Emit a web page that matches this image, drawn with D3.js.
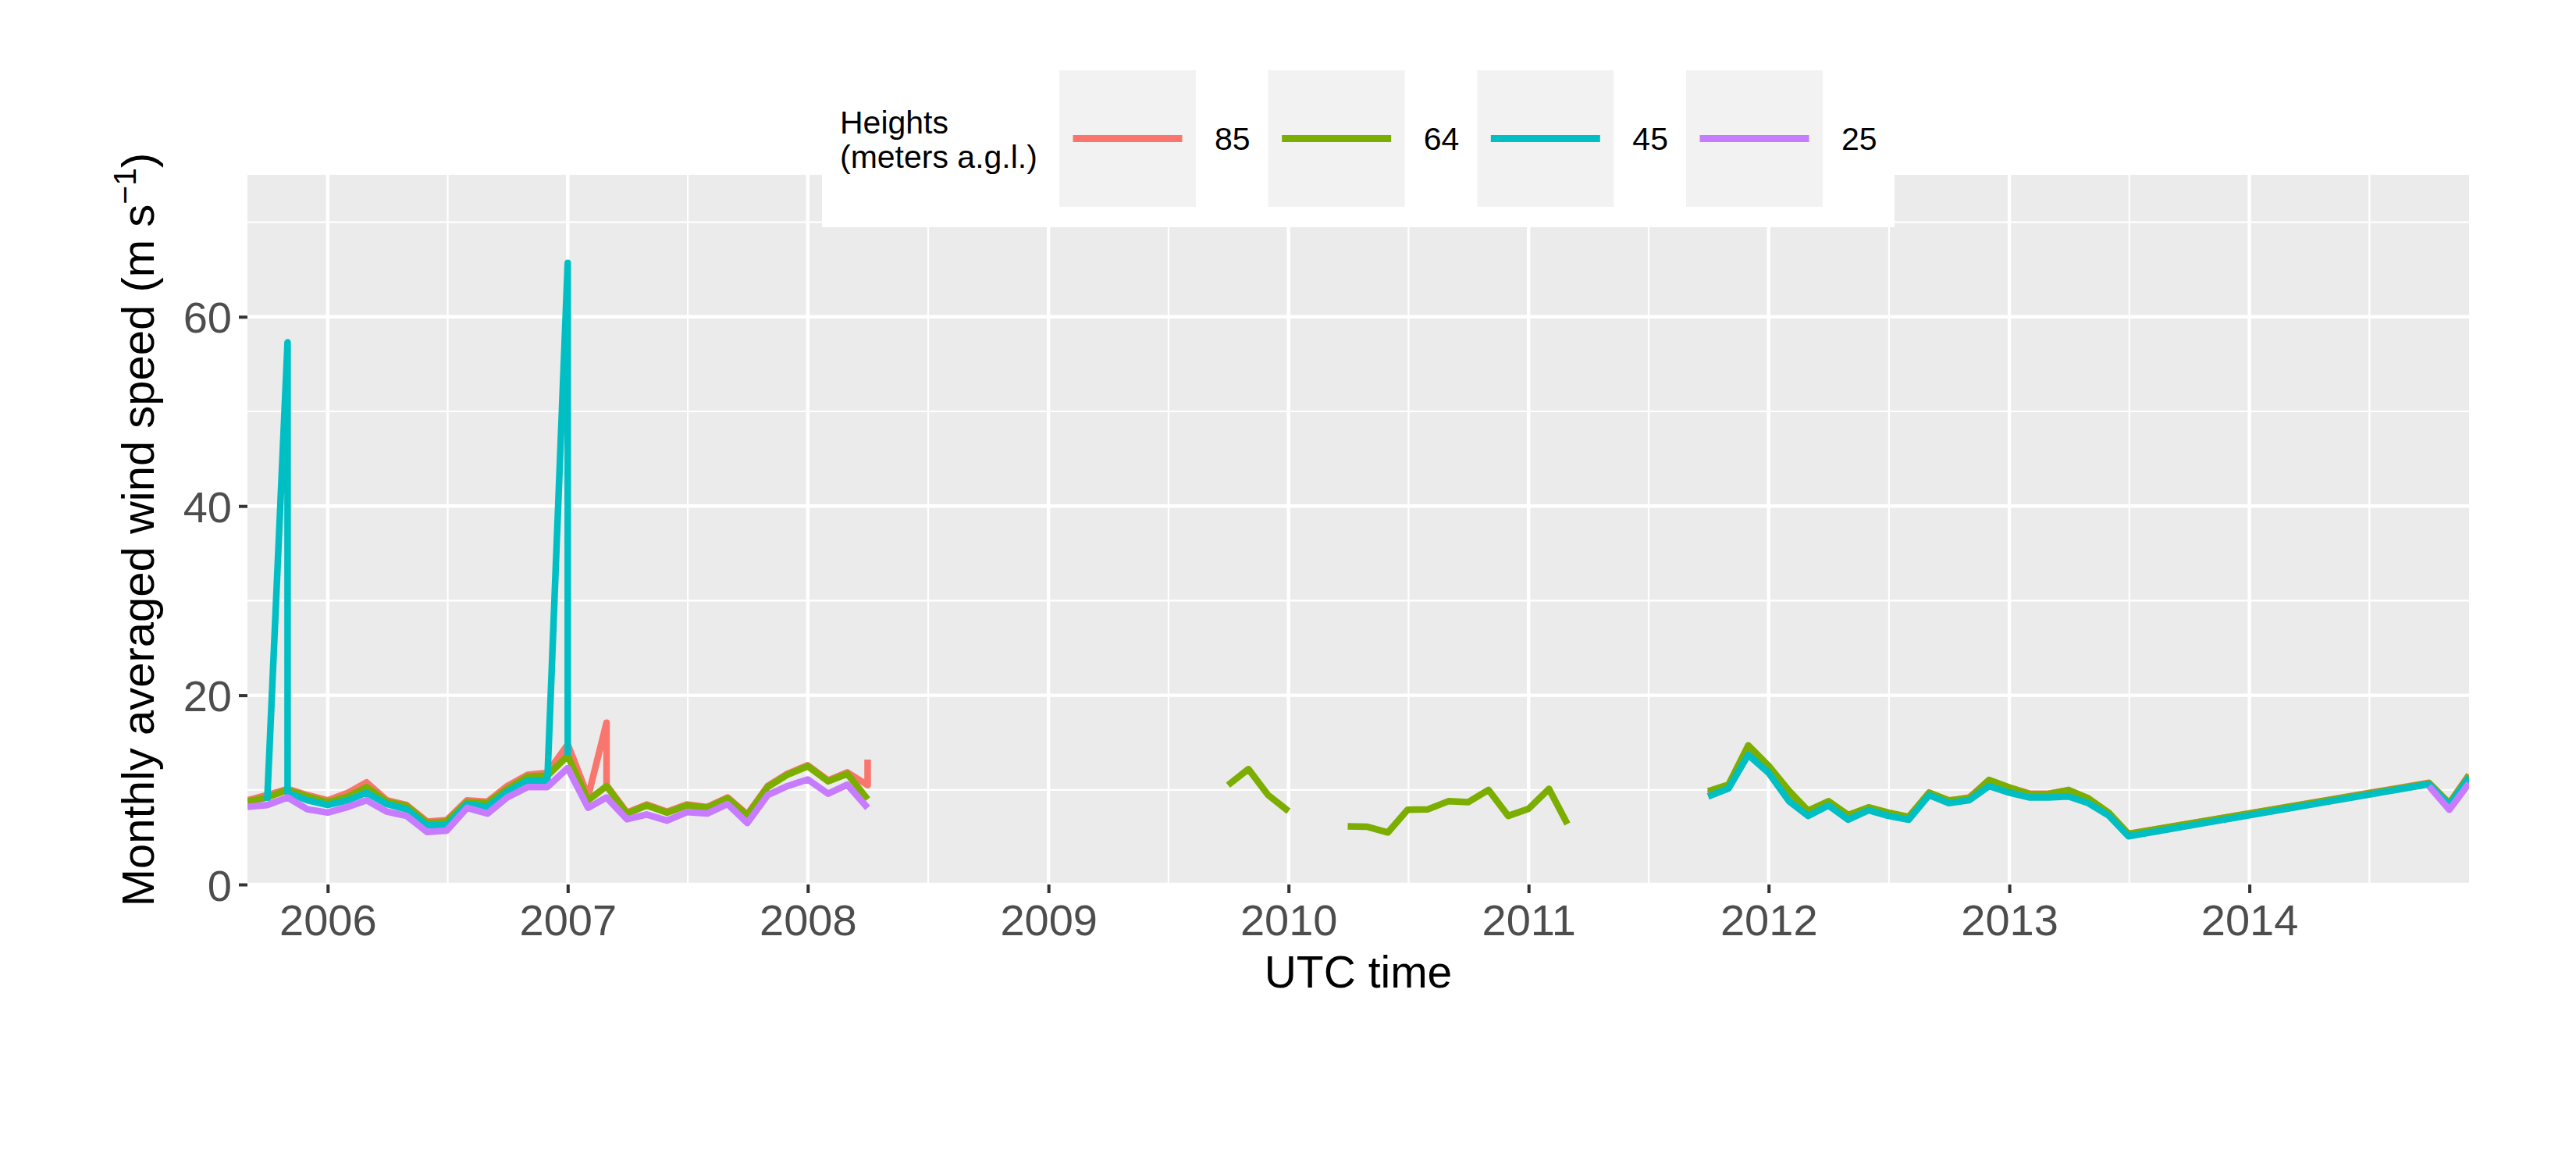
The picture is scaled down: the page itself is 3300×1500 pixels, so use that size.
<!DOCTYPE html>
<html><head><meta charset="utf-8">
<script src="https://cdn.jsdelivr.net/npm/d3@7"></script>
<style>html,body{margin:0;padding:0;background:#fff;}svg{display:block;}</style>
</head><body>
<script>
// ---------------- data ----------------
const N = null;
// monthly rows exist for these spans (rows for Aug 2013 – Sep 2014 are absent)
const monthSpans = [["2005-09", "2013-07"], ["2014-10", "2014-12"]];
const heights = ["85", "64", "45", "25"];
const colors = ["#F8766D", "#7CAE00", "#00BFC4", "#C77CFF"];
const yearLabels = ["2006","2007","2008","2009","2010","2011","2012","2013","2014"];
const yTickValues = [0, 20, 40, 60];
const yMinorValues = [10, 30, 50, 70];
// a two-element entry = two records for the same month
const h85 = [
  8.9, 9.45, 10.1, 9.45,
  8.9, 9.7, 10.8, 8.9, 8.4, 6.65, 6.8, 8.9, 8.75, 10.4, 11.6, 11.8,
  14.8, 9.3, [17.1, 10.5], 7.6, 8.45, 7.7, 8.45, 8.2, 9.2, 7.4, 10.4, 11.7,
  12.6, 11.0, 11.85, [10.5, 13.2], N, N, N, N, N, N, N, N,
  N, N, N, N, N, N, N, N, N, N, N, N,
  N, N, N, N, N, N, N, N, N, N, N, N,
  N, N, N, N, N, N, N, N, N, 9.6, 10.45, 14.5,
  12.45, 9.8, 7.7, 8.7, 7.25, 8.1, 7.5, 7.1, 9.7, 8.85, 9.2, 11.0,
  10.25, 9.6, 9.6, 9.95, 9.1, 7.55, 5.35,
  10.75, 8.6, 11.6
];
const h64 = [
  8.75, 9.2, 10.0, 9.3,
  8.7, 9.3, 10.3, 8.75, 8.3, 6.5, 6.65, 8.7, 8.6, 10.1, 11.4, 11.5,
  13.6, 8.9, 10.4, 7.5, 8.35, 7.6, 8.35, 8.1, 9.1, 7.3, 10.3, 11.6,
  12.5, 10.9, 11.7, 9.0, N, N, N, N, N, N, N, N,
  N, N, N, N, N, N, N, N, N, 10.5, 12.2, 9.45,
  7.75, N, N, 6.15, 6.1, 5.5, 7.9, 7.95, 8.8, 8.7, 10.0, 7.25,
  8.0, 10.1, 6.4, N, N, N, N, N, N, 9.85, 10.55, 14.7,
  12.55, 9.9, 7.8, 8.8, 7.35, 8.15, 7.6, 7.15, 9.7, 8.9, 9.1, 11.05,
  10.25, 9.55, 9.55, 10.0, 9.1, 7.6, 5.35,
  10.7, 8.55, 11.5
];
const h45 = [
  N, 8.85, [57.3, 9.7], 8.9,
  8.4, 8.9, 9.7, 8.5, 7.95, 6.25, 6.25, 8.5, 8.2, 9.8, 11.0, 11.0,
  [65.7, 13.7], N, N, N, N, N, N, N, N, N, N, N,
  N, N, N, N, N, N, N, N, N, N, N, N,
  N, N, N, N, N, N, N, N, N, N, N, N,
  N, N, N, N, N, N, N, N, N, N, N, N,
  N, N, N, N, N, N, N, N, N, 9.3, 10.15, 13.7,
  11.8, 8.8, 7.25, 8.35, 6.85, 7.85, 7.25, 6.85, 9.45, 8.6, 8.9, 10.4,
  9.7, 9.2, 9.2, 9.3, 8.6, 7.3, 5.1,
  10.6, 8.4, 11.3
];
const h25 = [
  8.2, 8.4, 9.2, 7.95,
  7.6, 8.2, 8.9, 7.7, 7.25, 5.55, 5.7, 8.1, 7.5, 9.2, 10.3, 10.3,
  12.3, 8.1, 9.2, 6.9, 7.4, 6.75, 7.65, 7.5, 8.5, 6.5, 9.45, 10.4,
  11.1, 9.6, 10.55, 8.1, N, N, N, N, N, N, N, N,
  N, N, N, N, N, N, N, N, N, N, N, N,
  N, N, N, N, N, N, N, N, N, N, N, N,
  N, N, N, N, N, N, N, N, N, N, N, N,
  N, N, N, N, N, N, N, N, N, N, N, N,
  N, N, N, N, N, N, N,
  10.4, 7.9, 10.7
];
const seriesValues = [h85, h64, h45, h25];

// ---------------- build ----------------
const W = 3300, H = 1500;
const P = {left: 317, right: 3163, top: 224, bottom: 1133};
const parseM = d3.utcParse("%Y-%m");
let months = [];
monthSpans.forEach(([a, b]) => {
  months = months.concat(d3.utcMonth.range(parseM(a), d3.utcMonth.offset(parseM(b), 1)));
});

const x = d3.scaleUtc().domain([months[0], months[months.length - 1]]).range([P.left, P.right]);
const y = d3.scaleLinear().domain([0, 75]).range([P.bottom, P.top]);

const svg = d3.select("body").append("svg").attr("width", W).attr("height", H)
  .style("font-family", "'Liberation Sans', Arial, Helvetica, sans-serif");
svg.append("rect").attr("width", W).attr("height", H).attr("fill", "#fff");

svg.append("defs").append("clipPath").attr("id", "clip")
  .append("rect").attr("x", P.left).attr("y", P.top)
  .attr("width", P.right - P.left).attr("height", P.bottom - P.top);

const g = svg.append("g");
g.append("rect").attr("x", P.left).attr("y", P.top)
  .attr("width", P.right - P.left).attr("height", P.bottom - P.top).attr("fill", "#EBEBEB");

const grid = g.append("g").attr("clip-path", "url(#clip)");
// year breaks
const yearDates = yearLabels.map(s => d3.utcParse("%Y")(s));
const allYears = [d3.utcYear.offset(yearDates[0], -1), ...yearDates, d3.utcYear.offset(yearDates[yearDates.length - 1], 1)];
const minorX = [];
for (let i = 0; i < allYears.length - 1; i++) minorX.push((x(allYears[i]) + x(allYears[i + 1])) / 2);

grid.selectAll(".ymin").data(yMinorValues).join("line")
  .attr("x1", P.left).attr("x2", P.right).attr("y1", d => y(d)).attr("y2", d => y(d))
  .attr("stroke", "#fff").attr("stroke-width", 2.2);
grid.selectAll(".xmin").data(minorX.filter(v => v > P.left && v < P.right)).join("line")
  .attr("x1", d => d).attr("x2", d => d).attr("y1", P.top).attr("y2", P.bottom)
  .attr("stroke", "#fff").attr("stroke-width", 2.2);
grid.selectAll(".ymaj").data(yTickValues).join("line")
  .attr("x1", P.left).attr("x2", P.right).attr("y1", d => y(d)).attr("y2", d => y(d))
  .attr("stroke", "#fff").attr("stroke-width", 4.4);
grid.selectAll(".xmaj").data(yearDates).join("line")
  .attr("x1", d => x(d)).attr("x2", d => x(d)).attr("y1", P.top).attr("y2", P.bottom)
  .attr("stroke", "#fff").attr("stroke-width", 4.4);

// lines
const lineGen = d3.line().defined(d => d.v != null).x(d => x(d.date)).y(d => y(d.v));
const plot = g.append("g").attr("clip-path", "url(#clip)");
seriesValues.forEach((vals, si) => {
  if (vals.length !== months.length) console.warn("length mismatch", heights[si], vals.length, months.length);
  const pts = [];
  vals.forEach((v, i) => {
    if (Array.isArray(v)) v.forEach(vv => pts.push({date: months[i], v: vv}));
    else pts.push({date: months[i], v: v});
  });
  plot.append("path").datum(pts).attr("d", lineGen)
    .attr("fill", "none").attr("stroke", colors[si]).attr("stroke-width", 8.5)
    .attr("stroke-linejoin", "round").attr("stroke-linecap", "butt");
});

// axes
const yAxis = d3.axisLeft(y).tickValues(yTickValues).tickSize(11).tickPadding(9).tickFormat(d3.format("d"));
const ya = svg.append("g").attr("transform", `translate(${P.left},0)`).call(yAxis);
const xAxis = d3.axisBottom(x).tickValues(yearDates).tickSize(11).tickPadding(14).tickFormat((d, i) => yearLabels[i]);
const xa = svg.append("g").attr("transform", `translate(0,${P.bottom})`).call(xAxis);
[ya, xa].forEach(a => {
  a.select(".domain").remove();
  a.selectAll(".tick line").attr("stroke", "#333333").attr("stroke-width", 4);
  a.selectAll(".tick text").attr("fill", "#4D4D4D").style("font-size", "56px")
    .style("font-family", "'Liberation Sans', Arial, Helvetica, sans-serif");
});
ya.selectAll(".tick text").attr("dy", "0.36em");
xa.selectAll(".tick text").attr("dy", "0.72em");

// axis titles
svg.append("text").attr("x", (P.left + P.right) / 2).attr("y", 1265)
  .attr("text-anchor", "middle").style("font-size", "57px").attr("fill", "#000").text("UTC time");
const yt = svg.append("text").attr("transform", `translate(197,${(P.top + P.bottom) / 2}) rotate(-90)`)
  .attr("text-anchor", "middle").style("font-size", "58px").attr("fill", "#000");
yt.append("tspan").text("Monthly averaged wind speed (m s");
yt.append("tspan").attr("dy", -23).style("font-size", "41px").text("\u22121");
yt.append("tspan").attr("dy", 23).text(")");

// legend
const lg = svg.append("g");
lg.append("rect").attr("x", 1053).attr("y", 62).attr("width", 1374).attr("height", 229).attr("fill", "#fff");
const lt = lg.append("text").attr("x", 1076).attr("y", 171).style("font-size", "41px").attr("fill", "#000");
lt.append("tspan").attr("x", 1076).text("Heights");
lt.append("tspan").attr("x", 1076).attr("dy", 44).text("(meters a.g.l.)");
const keyX = d3.scalePoint().domain(heights).range([1357, 2160]);
heights.forEach((h, i) => {
  const kx = keyX(h);
  lg.append("rect").attr("x", kx).attr("y", 90).attr("width", 175).attr("height", 175).attr("fill", "#F2F2F2");
  lg.append("line").attr("x1", kx + 17.5).attr("x2", kx + 157.5).attr("y1", 177.5).attr("y2", 177.5)
    .attr("stroke", colors[i]).attr("stroke-width", 9);
  lg.append("text").attr("x", kx + 199).attr("y", 177.5).attr("dy", "0.36em")
    .style("font-size", "41px").attr("fill", "#000").text(h);
});
</script>
</body></html>
